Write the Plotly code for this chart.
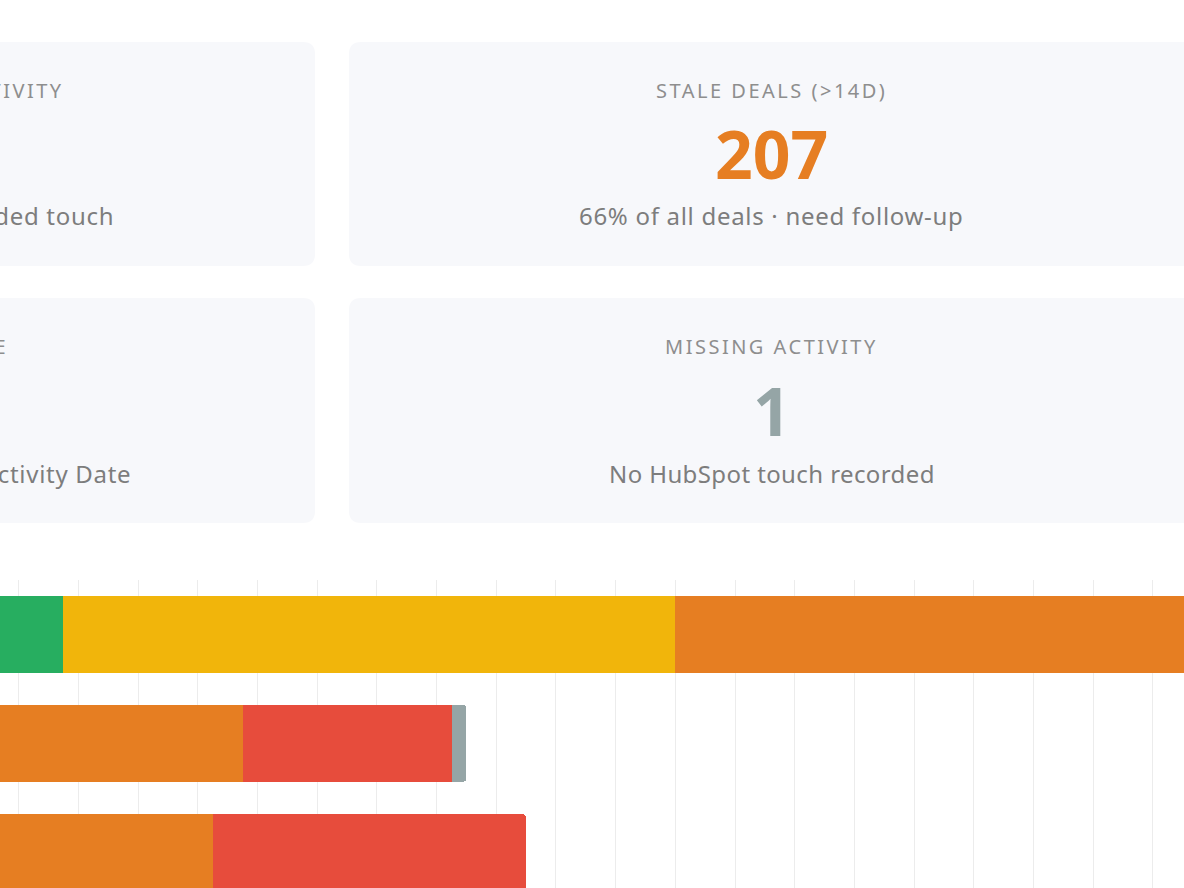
import plotly.graph_objects as go

# Recency buckets per category (deal counts)
categories = ["Discovery", "Proposal", "Negotiation"]
bucket_names = ["0-7 days", "8-14 days", "15-30 days", "30+ days", "No activity"]
fresh = [31, 3, 2]
recent = [41, 10, 8]
stale = [60, 30, 31]
cold = [10, 14, 21]
missing = [None, 1, None]
bucket_colors = ["#27ae60", "#f1b50b", "#e67e22", "#e74c3c", "#95a5a6"]

# KPI cards
stale_title = "STALE DEALS (>14D)"
stale_value = "207"
stale_sub = "66% of all deals · need follow-up"
missing_title = "MISSING ACTIVITY"
missing_value = "1"
missing_sub = "No HubSpot touch recorded"
recent_title = "DEALS WITH RECENT ACTIVITY"
recent_sub = "Within 14 days of last recorded touch"
age_title = "AVERAGE ACTIVITY AGE"
age_sub = "Days since HubSpot Last Activity Date"

W, H = 1184, 888
TOP = 580
PH = H - TOP
FONT = "Noto Sans"


def px_x(x):
    return x / W


def px_y(y):
    return (H - y) / PH


def rounded_rect(x0, y0, x1, y1, r=12):
    # path in paper coords, corners given in pixels
    X = lambda v: px_x(v)
    Y = lambda v: px_y(v)
    return (f"M {X(x0 + r)} {Y(y0)} L {X(x1 - r)} {Y(y0)} Q {X(x1)} {Y(y0)} {X(x1)} {Y(y0 + r)} "
            f"L {X(x1)} {Y(y1 - r)} Q {X(x1)} {Y(y1)} {X(x1 - r)} {Y(y1)} "
            f"L {X(x0 + r)} {Y(y1)} Q {X(x0)} {Y(y1)} {X(x0)} {Y(y1 - r)} "
            f"L {X(x0)} {Y(y0 + r)} Q {X(x0)} {Y(y0)} {X(x0 + r)} {Y(y0)} Z")


fig = go.Figure()
for name, vals, col in zip(bucket_names, [fresh, recent, stale, cold, missing], bucket_colors):
    fig.add_trace(go.Bar(
        y=categories,
        x=vals,
        name=name,
        orientation='h',
        marker=dict(color=col, line=dict(width=0)),
        showlegend=False
    ))

cards = [(-531, 42, 315, 266), (349, 42, 1195, 266), (-531, 298, 315, 523), (349, 298, 1195, 523)]
shapes = [dict(type='path', xref='paper', yref='paper', path=rounded_rect(*c),
               fillcolor='#f7f8fb', line=dict(width=0), layer='below') for c in cards]


def ls(t, sp=2.5):
    return f'<span style="letter-spacing:{sp}px">{t}</span>'


def ann(text, x, y, size, color, anchor='center', weight=400):
    return dict(text=text, x=px_x(x), y=px_y(y), xref='paper', yref='paper',
                xanchor=anchor, yanchor='middle', showarrow=False,
                font=dict(family=FONT, size=size, color=color, weight=weight))


TITLE_C = '#8e8e8e'
SUB_C = '#7d7d7d'
annotations = [
    ann(ls(stale_title), 772, 90, 20, TITLE_C),
    ann(stale_value, 772, 153, 66, '#e67e22', weight=700),
    ann(ls(stale_sub, 0.7), 772, 215, 24, SUB_C),
    ann(ls(missing_title), 772, 346, 20, TITLE_C),
    ann(missing_value, 772, 410, 66, '#95a5a6', weight=700),
    ann(ls(missing_sub, 0.4), 772, 473, 24, SUB_C),
    ann(ls(recent_title), 66, 90, 20, TITLE_C, anchor='right'),
    ann(ls(recent_sub, 0.7), 116, 215, 24, SUB_C, anchor='right'),
    ann(ls(age_title), 10, 346, 20, TITLE_C, anchor='right'),
    ann(ls(age_sub, 0.7), 133, 473, 24, SUB_C, anchor='right'),
]

fig.update_layout(
    barmode='stack',
    bargap=0.294,
    barcornerradius=4,
    width=W,
    height=H,
    autosize=False,
    margin=dict(l=0, r=0, t=TOP, b=0, pad=0),
    paper_bgcolor='white',
    plot_bgcolor='white',
    font=dict(family=FONT),
    shapes=shapes,
    annotations=annotations,
    xaxis=dict(range=[26.747, 106.08], tick0=0, dtick=4, showgrid=True, gridcolor='#ececec',
               gridwidth=1, zeroline=False, showticklabels=False, showline=False, ticks=''),
    yaxis=dict(type='category', categoryorder='array', categoryarray=categories,
               range=[2.326, -0.5], showgrid=False, zeroline=False, showticklabels=False,
               showline=False, ticks=''),
)

fig.write_html("out.html", config={'displayModeBar': False},
               post_script="document.body.style.margin='0';")
